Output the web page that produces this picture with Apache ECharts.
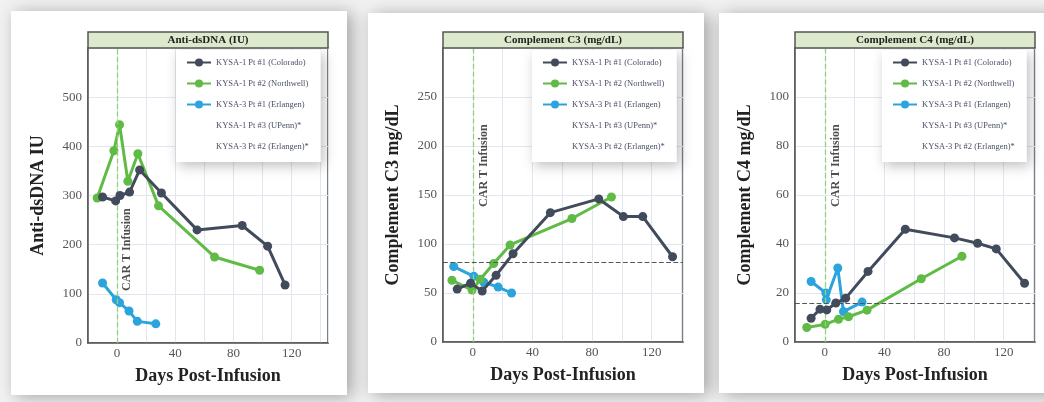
<!DOCTYPE html>
<html><head><meta charset="utf-8">
<script src="https://cdn.jsdelivr.net/npm/echarts@6/dist/echarts.min.js"></script>
<style>html,body{margin:0;padding:0;background:#f1f1f1;}#c{width:1044px;height:402px;}</style>
</head><body><div id="c"></div>
<script>
// ---- legend / series names ----
const seriesNames = ['KYSA-1 Pt #1 (Colorado)', 'KYSA-1 Pt #2 (Northwell)', 'KYSA-3 Pt #1 (Erlangen)', 'KYSA-1 Pt #3 (UPenn)*', 'KYSA-3 Pt #2 (Erlangen)*'];
const panelTitles = ['Anti-dsDNA (IU)', 'Complement C3 (mg/dL)', 'Complement C4 (mg/dL)'];
const yAxisNames = ['Anti-dsDNA IU', 'Complement C3 mg/dL', 'Complement C4 mg/dL'];
const xAxisName = 'Days Post-Infusion';
const xTickLabels = [0, 40, 80, 120];

// ---- Anti-dsDNA ----
const dsColoradoDays = [-10, -1, 2, 8.6, 15.5, 30.5, 55, 86, 103.5, 115.5];
const dsColoradoVals = [297, 289, 300, 307, 352, 305, 230, 239, 197, 118];
const dsNorthwellDays = [-13.7, -2.2, 1.7, 7.4, 14.3, 28.5, 67, 98];
const dsNorthwellVals = [295, 391, 444, 329, 385, 279, 175, 148];
const dsErlangenDays = [-10, -0.6, 1.7, 8.2, 13.9, 26.6];
const dsErlangenVals = [122, 88, 82, 65, 44, 39];

// ---- Complement C3 ----
const c3ColoradoDays = [-10.5, -1.5, 6.3, 15.6, 27, 52, 84.5, 101, 114, 134];
const c3ColoradoVals = [54, 60, 52, 68, 90, 132, 146, 128, 128, 87];
const c3NorthwellDays = [-14, -0.5, 5, 14, 25, 66.5, 93];
const c3NorthwellVals = [63, 53, 64, 80, 99, 126, 148];
const c3ErlangenDays = [-12.8, 0.7, 7.4, 17, 26];
const c3ErlangenVals = [77, 67, 61, 56, 50];
const c3LowerLimit = 81;

// ---- Complement C4 ----
const c4ColoradoDays = [-9.2, -3.2, 1.3, 7.4, 14, 29, 54, 87, 102.5, 115, 134];
const c4ColoradoVals = [9.7, 13.4, 13.1, 15.9, 17.9, 28.8, 46, 42.5, 40.3, 38, 24];
const c4NorthwellDays = [-12.1, 0.2, 9.2, 15.9, 28.3, 64.7, 92];
const c4NorthwellVals = [5.9, 7.2, 9.3, 10.3, 13, 25.8, 35];
const c4ErlangenDays = [-9.2, 0.7, 1, 8.7, 12.5, 25];
const c4ErlangenVals = [24.7, 20, 17.2, 30.2, 12.4, 16.3];
const c4LowerLimit = 16;

// ---- axis ranges ----
const yMax = [600, 300, 120];
const yStep = [100, 50, 20];
const xMax = [145, 141, 141];
const infusionDay = 0;
const annotPos = [[6.5, 190], [7.4, 180], [7.5, 72]];

const colors = ['#414b5c', '#5fbb45', '#2ba4dd'];
const serif = 'Liberation Serif';

const panels = [
  {days: [dsColoradoDays, dsNorthwellDays, dsErlangenDays], vals: [dsColoradoVals, dsNorthwellVals, dsErlangenVals], ref: null},
  {days: [c3ColoradoDays, c3NorthwellDays, c3ErlangenDays], vals: [c3ColoradoVals, c3NorthwellVals, c3ErlangenVals], ref: c3LowerLimit},
  {days: [c4ColoradoDays, c4NorthwellDays, c4ErlangenDays], vals: [c4ColoradoVals, c4NorthwellVals, c4ErlangenVals], ref: c4LowerLimit}
];

const gridLeft = [88, 443, 795];
const gridW = 240, gridTop = 48, gridH = [295, 294, 294];
const legendLeft = [176, 532, 882];
const cards = [[11, 11, 336, 384], [368, 13, 336, 380], [719, 13, 340, 380]];

const zip = (a, b) => a.map((d, i) => [d, b[i]]);

const grids = [], xAxes = [], yAxes = [], series = [], legends = [], graphics = [];
cards.forEach(c => graphics.push({type: 'rect', z: -10, shape: {x: c[0], y: c[1], width: c[2], height: c[3]},
  style: {fill: '#ffffff', shadowBlur: 16, shadowColor: 'rgba(0,0,0,0.32)', shadowOffsetX: 5, shadowOffsetY: 2}}));

panels.forEach((p, k) => {
  grids.push({left: gridLeft[k], top: gridTop, width: gridW, height: gridH[k], show: true, backgroundColor: '#fff', borderColor: '#555', borderWidth: 1.5, containLabel: false});
  xAxes.push({type: 'value', gridIndex: k, min: -20, max: xMax[k], interval: 20,
    name: xAxisName, nameLocation: 'middle', nameGap: 24,
    nameTextStyle: {fontFamily: serif, fontWeight: 'bold', fontSize: 18, color: '#222'},
    axisLine: {show: true, onZero: false, lineStyle: {color: '#555', width: 1.5}}, axisTick: {show: false},
    axisLabel: {fontFamily: serif, fontSize: 13, color: '#555', margin: 4, showMaxLabel: false, showMinLabel: false,
      formatter: v => xTickLabels.indexOf(v) >= 0 ? String(v) : ''},
    splitLine: {show: true, lineStyle: {color: '#e2e7ef', width: 1}}});
  yAxes.push({type: 'value', gridIndex: k, min: 0, max: yMax[k], interval: yStep[k],
    name: yAxisNames[k], nameLocation: 'middle', nameGap: 41, nameRotate: 90,
    nameTextStyle: {fontFamily: serif, fontWeight: 'bold', fontSize: 18, color: '#222'},
    axisLine: {show: true, onZero: false, lineStyle: {color: '#555', width: 1.5}}, axisTick: {show: false},
    axisLabel: {fontFamily: serif, fontSize: 13, color: '#555', margin: 6,
      formatter: v => v >= yMax[k] ? '' : String(v)},
    splitLine: {show: true, lineStyle: {color: '#e2e7ef', width: 1}}});

  // reference lines (infusion day, lower normal limit)
  series.push({type: 'line', name: 'infusion' + k, xAxisIndex: k, yAxisIndex: k, data: [], silent: true,
    itemStyle: {color: '#8fd47a'},
    markLine: {silent: true, symbol: 'none', label: {show: false}, animation: false,
      lineStyle: {color: '#8fd47a', type: 'dashed', width: 1.3}, data: [{xAxis: infusionDay}]}});
  if (p.ref !== null) {
    series.push({type: 'line', name: 'limit' + k, xAxisIndex: k, yAxisIndex: k, data: [], silent: true,
      itemStyle: {color: '#555'},
      markLine: {silent: true, symbol: 'none', label: {show: false}, animation: false,
        lineStyle: {color: '#555', type: 'dashed', width: 1.2}, data: [{yAxis: p.ref}]}});
  }

  p.days.forEach((d, j) => {
    series.push({type: 'line', name: seriesNames[j], xAxisIndex: k, yAxisIndex: k, data: zip(d, p.vals[j]),
      symbol: 'circle', symbolSize: 9, showSymbol: true, z: 5 - j,
      lineStyle: {color: colors[j], width: 3}, itemStyle: {color: colors[j]}, emphasis: {disabled: true}, animation: false});
  });
  series.push({type: 'scatter', name: 'annot' + k, xAxisIndex: k, yAxisIndex: k, data: [annotPos[k]], symbolSize: 0.1,
    silent: true, animation: false,
    label: {show: true, position: 'inside', rotate: 90, formatter: 'CAR T Infusion', fontFamily: serif, fontWeight: 'bold', fontSize: 12, color: '#222'}});

  legends.push({data: seriesNames, orient: 'vertical', left: legendLeft[k], top: 50, padding: [8, 12, 11, 10],
    itemWidth: 24, itemHeight: 10, itemGap: 12, selectedMode: false, backgroundColor: '#fff',
    shadowBlur: 12, shadowColor: 'rgba(0,0,0,0.25)', shadowOffsetX: 3, shadowOffsetY: 4,
    textStyle: {fontFamily: serif, fontSize: 8.5, color: '#4a5068'}});

  graphics.push({type: 'rect', z: 10, shape: {x: gridLeft[k], y: 32, width: gridW, height: 16},
    style: {fill: '#dce9cc', stroke: '#555', lineWidth: 1.5}});
  graphics.push({type: 'text', z: 11, x: gridLeft[k] + gridW / 2, y: 40,
    style: {text: panelTitles[k], fontFamily: serif, fontWeight: 'bold', fontSize: 11, fill: '#222', align: 'center', verticalAlign: 'middle'}});
});

// phantom series (no data) for legend entries without markers
[3, 4].forEach(j => series.push({type: 'line', name: seriesNames[j], xAxisIndex: 0, yAxisIndex: 0, data: [],
  symbol: 'circle', lineStyle: {color: 'rgba(0,0,0,0)'}, itemStyle: {color: 'rgba(0,0,0,0)'}}));

const chart = echarts.init(document.getElementById('c'), null, {renderer: 'canvas'});
chart.setOption({backgroundColor: '#f1f1f1', animation: false, grid: grids, xAxis: xAxes, yAxis: yAxes,
  series: series, legend: legends, graphic: graphics});
</script></body></html>
